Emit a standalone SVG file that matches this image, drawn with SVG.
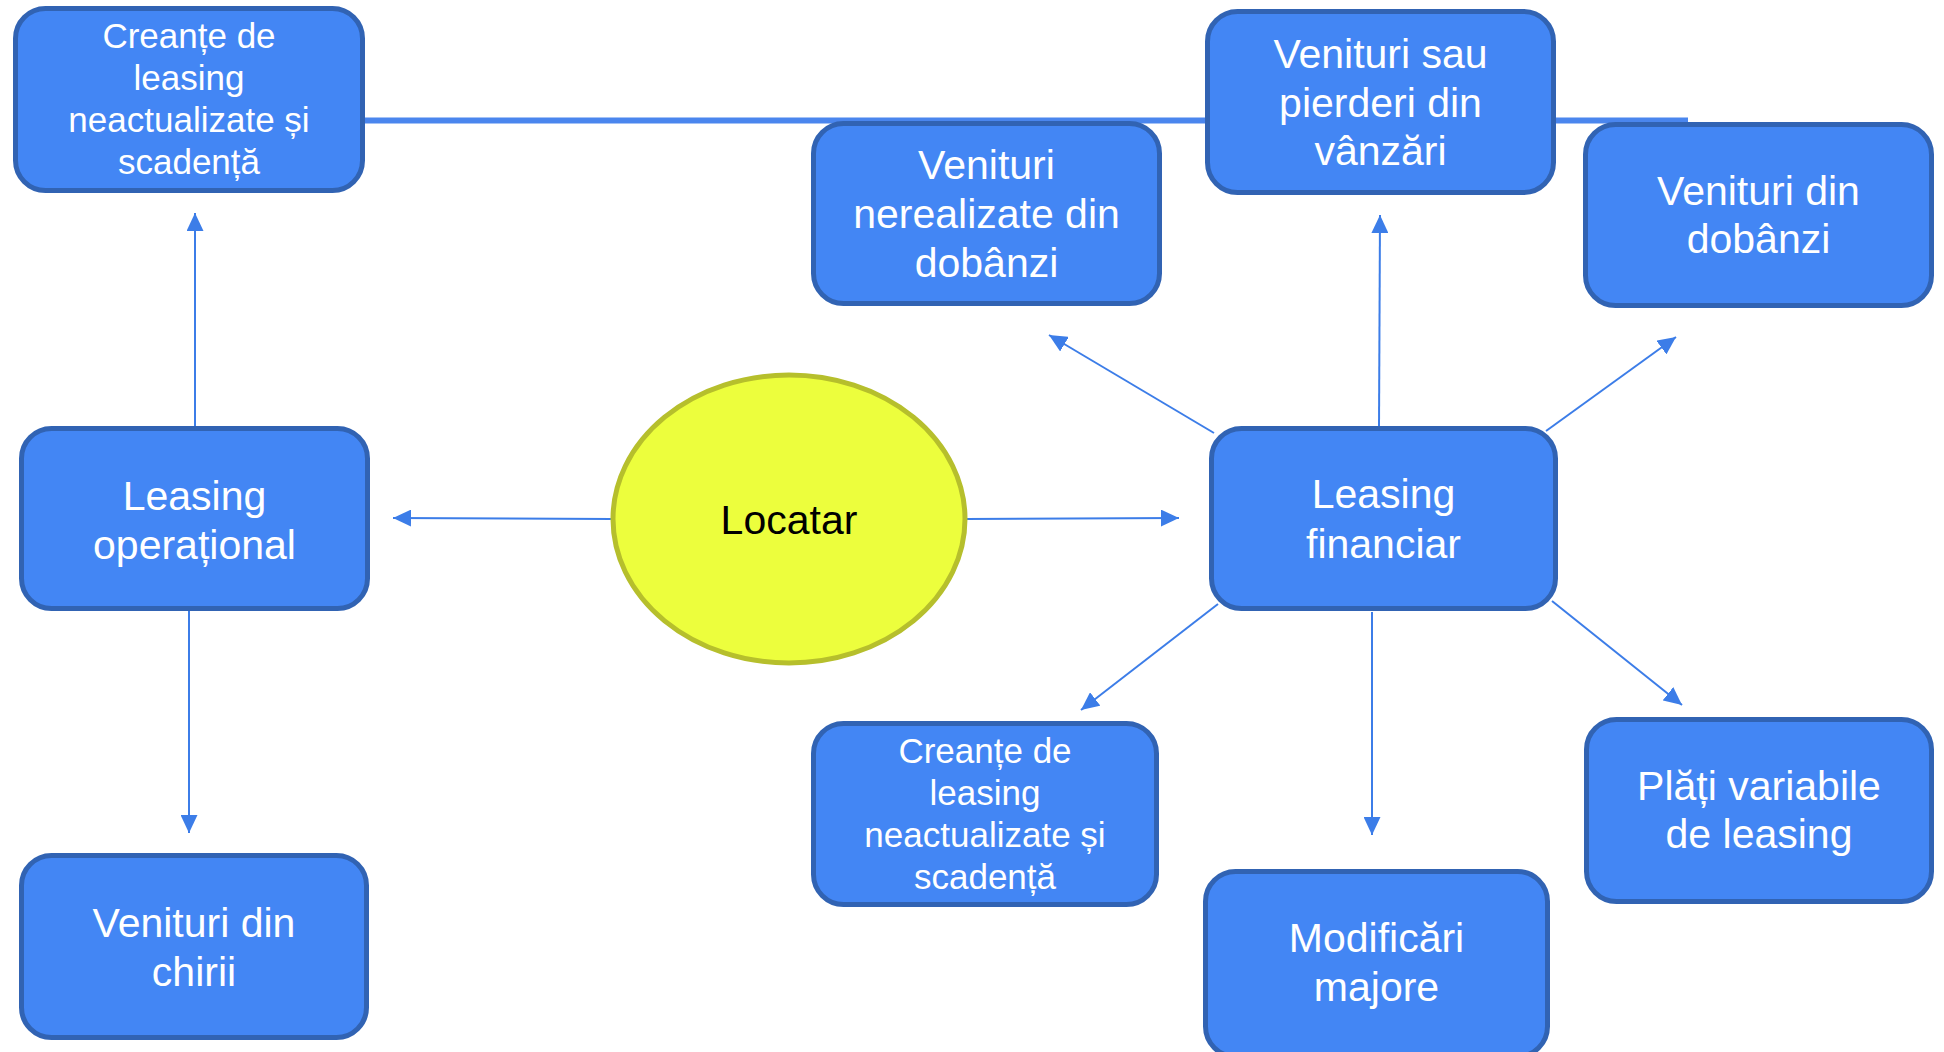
<svg xmlns="http://www.w3.org/2000/svg" width="1944" height="1052" viewBox="0 0 1944 1052">
<defs>
<style>
.box{fill:#4386f4;stroke:#3163b3;stroke-width:5}
.t{font-family:"Liberation Sans",Arial,sans-serif;fill:#ffffff;text-anchor:middle}
.s{font-size:35px}
.l{font-size:41px}
.c{stroke:#3c7de8;stroke-width:2;fill:none;marker-end:url(#ah)}
</style>
<marker id="ah" markerUnits="userSpaceOnUse" markerWidth="18" markerHeight="17" refX="18" refY="8.5" orient="auto" viewBox="0 0 18 17">
<path d="M0,0 L18,8.5 L0,17 z" fill="#3c7de8"/>
</marker>
</defs>
<rect width="1944" height="1052" fill="#ffffff"/>
<g id="connectors">
<line x1="365" y1="120.5" x2="1688" y2="120.5" stroke="#4a86ee" stroke-width="6"/>
<line class="c" x1="195" y1="426" x2="195" y2="213"/>
<line class="c" x1="612" y1="519" x2="393" y2="518"/>
<line class="c" x1="189" y1="611" x2="189" y2="833"/>
<line class="c" x1="966" y1="519" x2="1179" y2="518"/>
<line class="c" x1="1379" y1="426" x2="1380" y2="215"/>
<line class="c" x1="1214" y1="433" x2="1049" y2="335"/>
<line class="c" x1="1546" y1="431" x2="1676" y2="337"/>
<line class="c" x1="1218" y1="604" x2="1081" y2="710"/>
<line class="c" x1="1372" y1="612" x2="1372" y2="835"/>
<line class="c" x1="1552" y1="601" x2="1682" y2="705"/>
</g>
<g id="n-creante-top">
<rect class="box" x="15.5" y="8.5" width="347" height="182" rx="30"/>
<text class="t s" x="189" y="48">Creanțe de</text>
<text class="t s" x="189" y="90">leasing</text>
<text class="t s" x="189" y="132">neactualizate și</text>
<text class="t s" x="189" y="174">scadență</text>
</g>
<g id="n-leasing-operational">
<rect class="box" x="21.5" y="428.5" width="346" height="180" rx="30"/>
<text class="t l" x="194.5" y="510">Leasing</text>
<text class="t l" x="194.5" y="559">operațional</text>
</g>
<g id="n-chirii">
<rect class="box" x="21.5" y="855.5" width="345" height="182" rx="30"/>
<text class="t l" x="194" y="937">Venituri din</text>
<text class="t l" x="194" y="986">chirii</text>
</g>
<g id="n-locatar">
<ellipse cx="789" cy="519" rx="176" ry="144" fill="#ecfe3d" stroke="#b6bf2c" stroke-width="5"/>
<text x="789" y="534" font-family="Liberation Sans, Arial, sans-serif" font-size="41" fill="#000000" text-anchor="middle">Locatar</text>
</g>
<g id="n-nerealizate">
<rect class="box" x="813.5" y="123.5" width="346" height="180" rx="30"/>
<text class="t l" x="986.5" y="179">Venituri</text>
<text class="t l" x="986.5" y="228">nerealizate din</text>
<text class="t l" x="986.5" y="277">dobânzi</text>
</g>
<g id="n-vanzari">
<rect class="box" x="1207.5" y="11.5" width="346" height="181" rx="30"/>
<text class="t l" x="1380.5" y="68">Venituri sau</text>
<text class="t l" x="1380.5" y="117">pierderi din</text>
<text class="t l" x="1380.5" y="165">vânzări</text>
</g>
<g id="n-dobanzi">
<rect class="box" x="1585.5" y="124.5" width="346" height="181" rx="30"/>
<text class="t l" x="1758.5" y="205">Venituri din</text>
<text class="t l" x="1758.5" y="253">dobânzi</text>
</g>
<g id="n-leasing-financiar">
<rect class="box" x="1211.5" y="428.5" width="344" height="180" rx="30"/>
<text class="t l" x="1383.5" y="508">Leasing</text>
<text class="t l" x="1383.5" y="558">financiar</text>
</g>
<g id="n-creante-bottom">
<rect class="box" x="813.5" y="723.5" width="343" height="181" rx="30"/>
<text class="t s" x="985" y="763">Creanțe de</text>
<text class="t s" x="985" y="805">leasing</text>
<text class="t s" x="985" y="847">neactualizate și</text>
<text class="t s" x="985" y="889">scadență</text>
</g>
<g id="n-modificari">
<rect class="box" x="1205.5" y="871.5" width="342" height="185" rx="30"/>
<text class="t l" x="1376.5" y="952">Modificări</text>
<text class="t l" x="1376.5" y="1001">majore</text>
</g>
<g id="n-plati">
<rect class="box" x="1586.5" y="719.5" width="345" height="182" rx="30"/>
<text class="t l" x="1759" y="800">Plăți variabile</text>
<text class="t l" x="1759" y="848">de leasing</text>
</g>
</svg>
